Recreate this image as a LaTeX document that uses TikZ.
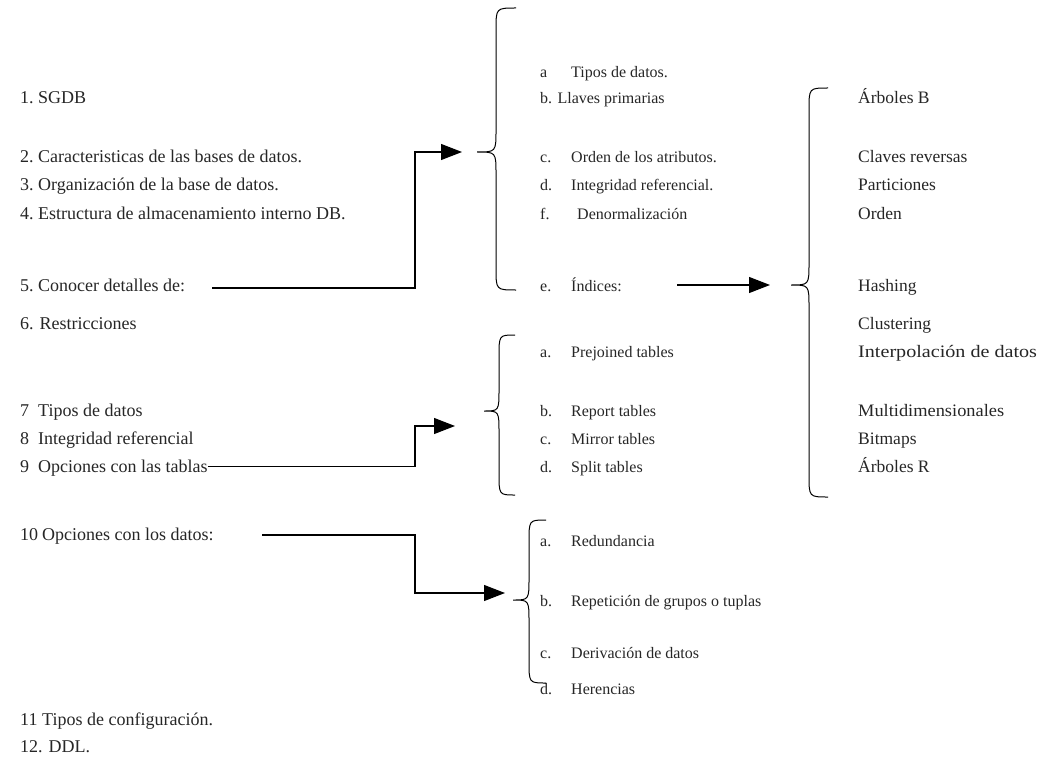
\documentclass[tikz,border=0pt]{standalone}
\usepackage{fontspec}
\setmainfont{Liberation Serif}
\usetikzlibrary{arrows.meta}

% curly brace opening to the right: #1 cusp x, #2 spine x, #3 tip x, #4 top y, #5 middle y, #6 bottom y
\newcommand{\curlybrace}[6]{%
  \draw[bracepen] (#3,#4) .. controls (#2,#4) .. (#2,{#4+22})
    -- (#2,{#5-22}) .. controls (#2,#5) .. (#1,#5)
    .. controls (#2,#5) .. (#2,{#5+22})
    -- (#2,{#6-22}) .. controls (#2,#6) .. (#3,#6);}

\begin{document}
\begin{tikzpicture}[x=1pt,y=-1pt,
  txt/.style={anchor=base west, inner sep=0pt, text=black!85, font=\fontsize{16}{19}\selectfont},
  wide/.style={txt, font=\fontsize{18}{20}\selectfont},
  kind/.style={txt, font=\fontsize{17.5}{20}\selectfont},
  link/.style={line width=1.1pt, -{Triangle[length=21pt,width=16pt]}},
  bracepen/.style={line width=1pt}]
\useasboundingbox (0,0) rectangle (1054,770);

\newcommand{\num}[1]{\makebox[18pt][l]{#1}}
\newcommand{\lab}[1]{\makebox[31pt][l]{#1}}

% left column
\node[wide] (l1)  at (20,104) {\num{1.}SGDB};
\node[wide] (l2)  at (20,163) {\num{2.}Caracteristicas de las bases de datos.};
\node[wide] (l3)  at (20,191) {\num{3.}Organización de la base de datos.};
\node[wide] (l4)  at (20,219) {\num{4.}Estructura de almacenamiento interno DB.};
\node[wide] (l5)  at (20,291) {\num{5.}Conocer detalles de:};
\node[wide] (l6)  at (20,329) {6. Restricciones};
\node[wide] (l7)  at (20,416) {\num{7}Tipos de datos};
\node[wide] (l8)  at (20,444) {\num{8}Integridad referencial};
\node[wide] (l9)  at (20,472) {\num{9}Opciones con las tablas};
\node[wide] (l10) at (20,540) {\makebox[22pt][l]{10}Opciones con los datos:};
\node[wide] (l11) at (20,725) {\makebox[22pt][l]{11}Tipos de configuración.};
\node[wide] (l12) at (20,752) {12. DDL.};

% first group
\node[txt] (m1) at (540,78)  {\lab{a}Tipos de datos.};
\node[txt] (m2) at (540,104) {b. Llaves primarias};
\node[txt] (m3) at (540,163) {\lab{c.}Orden de los atributos.};
\node[txt] (m4) at (540,191) {\lab{d.}Integridad referencial.};
\node[txt] (m5) at (540,219) {\makebox[37pt][l]{f.}Denormalización};
\node[txt] (m6) at (540,291) {\lab{e.}Índices:};

% second group
\node[txt] (t1) at (540,357) {\lab{a.}Prejoined tables};
\node[txt] (t2) at (540,416) {\lab{b.}Report tables};
\node[txt] (t3) at (540,444) {\lab{c.}Mirror tables};
\node[txt] (t4) at (540,472) {\lab{d.}Split tables};

% third group
\node[txt] (d1) at (540,546) {\lab{a.}Redundancia};
\node[txt] (d2) at (540,606) {\lab{b.}Repetición de grupos o tuplas};
\node[txt] (d3) at (540,658) {\lab{c.}Derivación de datos};
\node[txt] (d4) at (540,694) {\lab{d.}Herencias};

% index kinds
\node[kind] (r1)  at (858,104) {Árboles B};
\node[kind] (r2)  at (858,163) {Claves reversas};
\node[kind] (r3)  at (858,191) {Particiones};
\node[kind] (r4)  at (858,219) {Orden};
\node[kind] (r5)  at (858,291) {Hashing};
\node[kind] (r6)  at (858,329) {Clustering};
\node[kind] (r7)  at (858,357) {\scalebox{1.15}[1]{Interpolación de datos}};
\node[kind] (r8)  at (858,416) {\scalebox{1.05}[1]{Multidimensionales}};
\node[kind] (r9)  at (858,444) {Bitmaps};
\node[kind] (r10) at (858,472) {Árboles R};

% braces
\curlybrace{477}{496}{516}{8}{152}{290}
\curlybrace{484}{499}{515}{335}{411}{495}
\curlybrace{513}{529}{546}{520}{600}{683}
\curlybrace{791}{809}{828}{88}{285}{497}

% loose ends of the connectors
\coordinate (s5) at (212,288);
\coordinate (s10) at (262,535);
\coordinate (s6) at (677,285);
\coordinate (a1) at (462,152);
\coordinate (a2) at (455,426);
\coordinate (a3) at (505,593);
\coordinate (a4) at (770,285);
\coordinate (k) at (415,0);

% connectors
\draw[link] (s5) -- (s5 -| k) -- (k |- a1) -- (a1);
\draw[link] ([yshift=-7pt]l9.north east) -- ([yshift=-7pt]l9.north east -| k) -- (k |- a2) -- (a2);
\draw[link] (s10) -- (s10 -| k) -- (k |- a3) -- (a3);
\draw[link] (s6) -- (a4);
\end{tikzpicture}
\end{document}
